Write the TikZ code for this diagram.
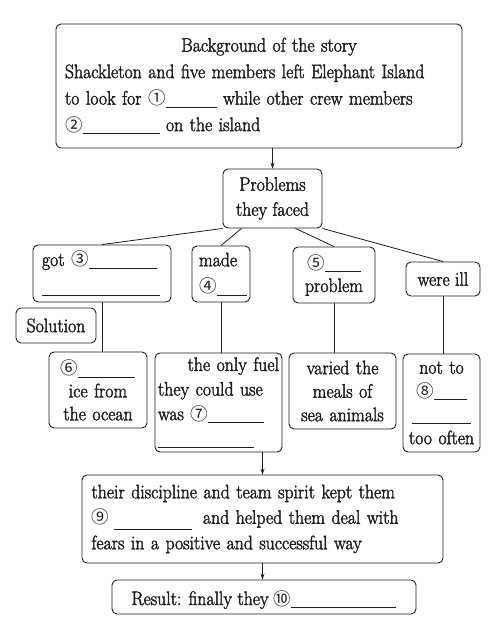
\documentclass[tikz,border=0pt]{standalone}
\usepackage{fontspec}
\setmainfont{Latin Modern Roman}[FakeBold=2, FakeStretch=0.91]
\newfontfamily\cnfont{Noto Sans CJK SC}
\usetikzlibrary{arrows.meta,calc}
\newcommand\cn[1]{{\cnfont\fontsize{17.5}{17.5}\selectfont #1}}
\newcommand\blk[2][-3pt]{\rule[#1]{#2}{0.7pt}}
\newcommand\fs[1]{\fontsize{19.5}{#1}\selectfont}
\definecolor{ink}{HTML}{1E1E1E}
\begin{document}
\begin{tikzpicture}[x=1pt,y=-1pt,
  box/.style={draw=ink, line width=0.9pt, rounded corners=5pt, inner sep=0pt, text=ink,
    font=\fs{24}},
  conn/.style={draw=ink, line width=0.8pt},
  arr/.style={conn,-{Stealth[length=6pt,width=4pt]}}]
\useasboundingbox (0,0) rectangle (497,628);
\fill[white] (0,0) rectangle (497,628);

\node[box, minimum width=406pt, minimum height=124pt, text width=388pt, align=left,
  font=\fs{26.5}] (bg) at (259,86)
  {\makebox[388pt]{\hspace{20pt}Background of the story}\\
   Shackleton and five members left Elephant Island\\
   to look for \cn{①}\blk{51pt} while other crew members\\
   \cn{②}\blk{77pt} on the island};

\node[box, minimum width=99pt, minimum height=59pt, align=center, font=\fs{25}]
  (prob) at (272.5,198.5) {Problems\\they faced};

\node[box, minimum width=138pt, minimum height=57pt, text width=120pt, align=left, font=\fs{27}]
  (got) at (102,273.5) {got \cn{③}\blk{68pt}\\\blk{118pt}};
\node[box, minimum width=58pt, minimum height=56pt, text width=44pt, align=left, font=\fs{26}]
  (made) at (221,274) {made\\\cn{④}\blk{30pt}};
\node[box, minimum width=82pt, minimum height=56pt, text width=72pt, align=center, font=\fs{23}]
  (five) at (334,275) {\cn{⑤}\blk{36pt}\\problem};
\node[box, minimum width=74pt, minimum height=34pt]
  (ill) at (443,279) {were ill};
\node[box, minimum width=80pt, minimum height=35pt]
  (sol) at (56,325.5) {Solution};

\node[box, minimum width=98pt, minimum height=76pt, text width=92pt, align=center, font=\fs{23}]
  (six) at (98,390) {\cn{⑥}\blk{57pt}\\ice from\\the ocean};
\node[box, minimum width=127pt, minimum height=99pt, text width=121pt, align=left, font=\fs{24.6}]
  (fuel) at (218.5,402.5) {\hspace*{\fill}the only fuel\\they could use\\was \cn{⑦}\blk{56pt}\\\blk{96pt}};
\node[box, minimum width=107pt, minimum height=76pt, text width=102pt, align=center, font=\fs{23.5}]
  (varied) at (342.5,391) {varied the\\meals of\\sea animals};
\node[box, minimum width=77pt, minimum height=98pt, text width=72pt, align=center, font=\fs{23.5}]
  (notto) at (441.5,403) {not to\\\cn{⑧}\blk{33pt}\\\blk{59pt}\\too often};

\node[box, minimum width=361pt, minimum height=88pt, text width=342pt, align=left, font=\fs{25.5}]
  (disc) at (262.5,519) {their discipline and team spirit kept them\\
   \cn{⑨}\hspace{5pt}\blk[-6pt]{78pt}\hspace{11pt}and helped them deal with\\
   fears in a positive and successful way};
\node[box, minimum width=304pt, minimum height=34pt, text height=19pt, text depth=3pt]
  (res) at (264,597) {Result: finally they \cn{⑩}\blk{105pt}};

\draw[arr] (bg.south -| prob.north) -- (prob.north);
\draw[conn] (prob.south west) -- (got.north);
\draw[conn] ($(prob.south west)!0.19!(prob.south east)$) -- (made.north);
\draw[conn] ($(prob.south west)!0.73!(prob.south east)$) -- (five.north);
\draw[conn] (prob.south east) -- (ill.north);
\draw[conn] (got.south) -- (got.south |- six.north);
\draw[conn] (made.south) -- (made.south |- fuel.north);
\draw[conn] (five.south) -- (five.south |- varied.north);
\draw[conn] (ill.south) -- (ill.south |- notto.north);
\draw[arr] (fuel.south -| disc.north) -- (disc.north);
\draw[arr] (disc.south) -- (disc.south |- res.north);
\end{tikzpicture}
\end{document}
